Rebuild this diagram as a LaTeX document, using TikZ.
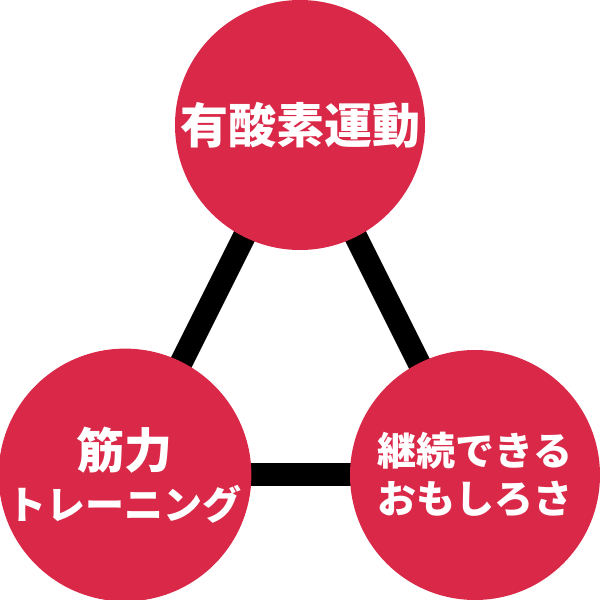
\documentclass[tikz,border=0pt]{standalone}
\usepackage{fontspec}
\newfontfamily\jp{Noto Sans CJK JP}
\usetikzlibrary{backgrounds}
\definecolor{redc}{RGB}{218,40,72}
\begin{document}
\begin{tikzpicture}[x=1pt,y=1pt,
  bub/.style={circle,fill=redc,minimum size=250pt,inner sep=0pt,text=white,align=center,font=\jp\bfseries},
  link/.style={line width=23pt,draw=black}]
\useasboundingbox (0,0) rectangle (600,600);
\node[bub,font=\jp\bfseries\fontsize{48}{58}\selectfont] (top) at (300,475) {有酸素運動};
\node[bub,font=\jp\bfseries\fontsize{39}{51}\selectfont] (left) at (125,125) {{\fontsize{48}{51}\selectfont 筋力}\\トレーニング};
\node[bub,font=\jp\bfseries\fontsize{39}{48}\selectfont] (right) at (475,125) {継続できる\\おもしろさ};
\begin{scope}[on background layer]
\draw[link] (top.center) -- (left.center);
\draw[link] (top.center) -- (right.center);
\draw[link] (left.center) -- (right.center);
\end{scope}
\end{tikzpicture}
\end{document}
